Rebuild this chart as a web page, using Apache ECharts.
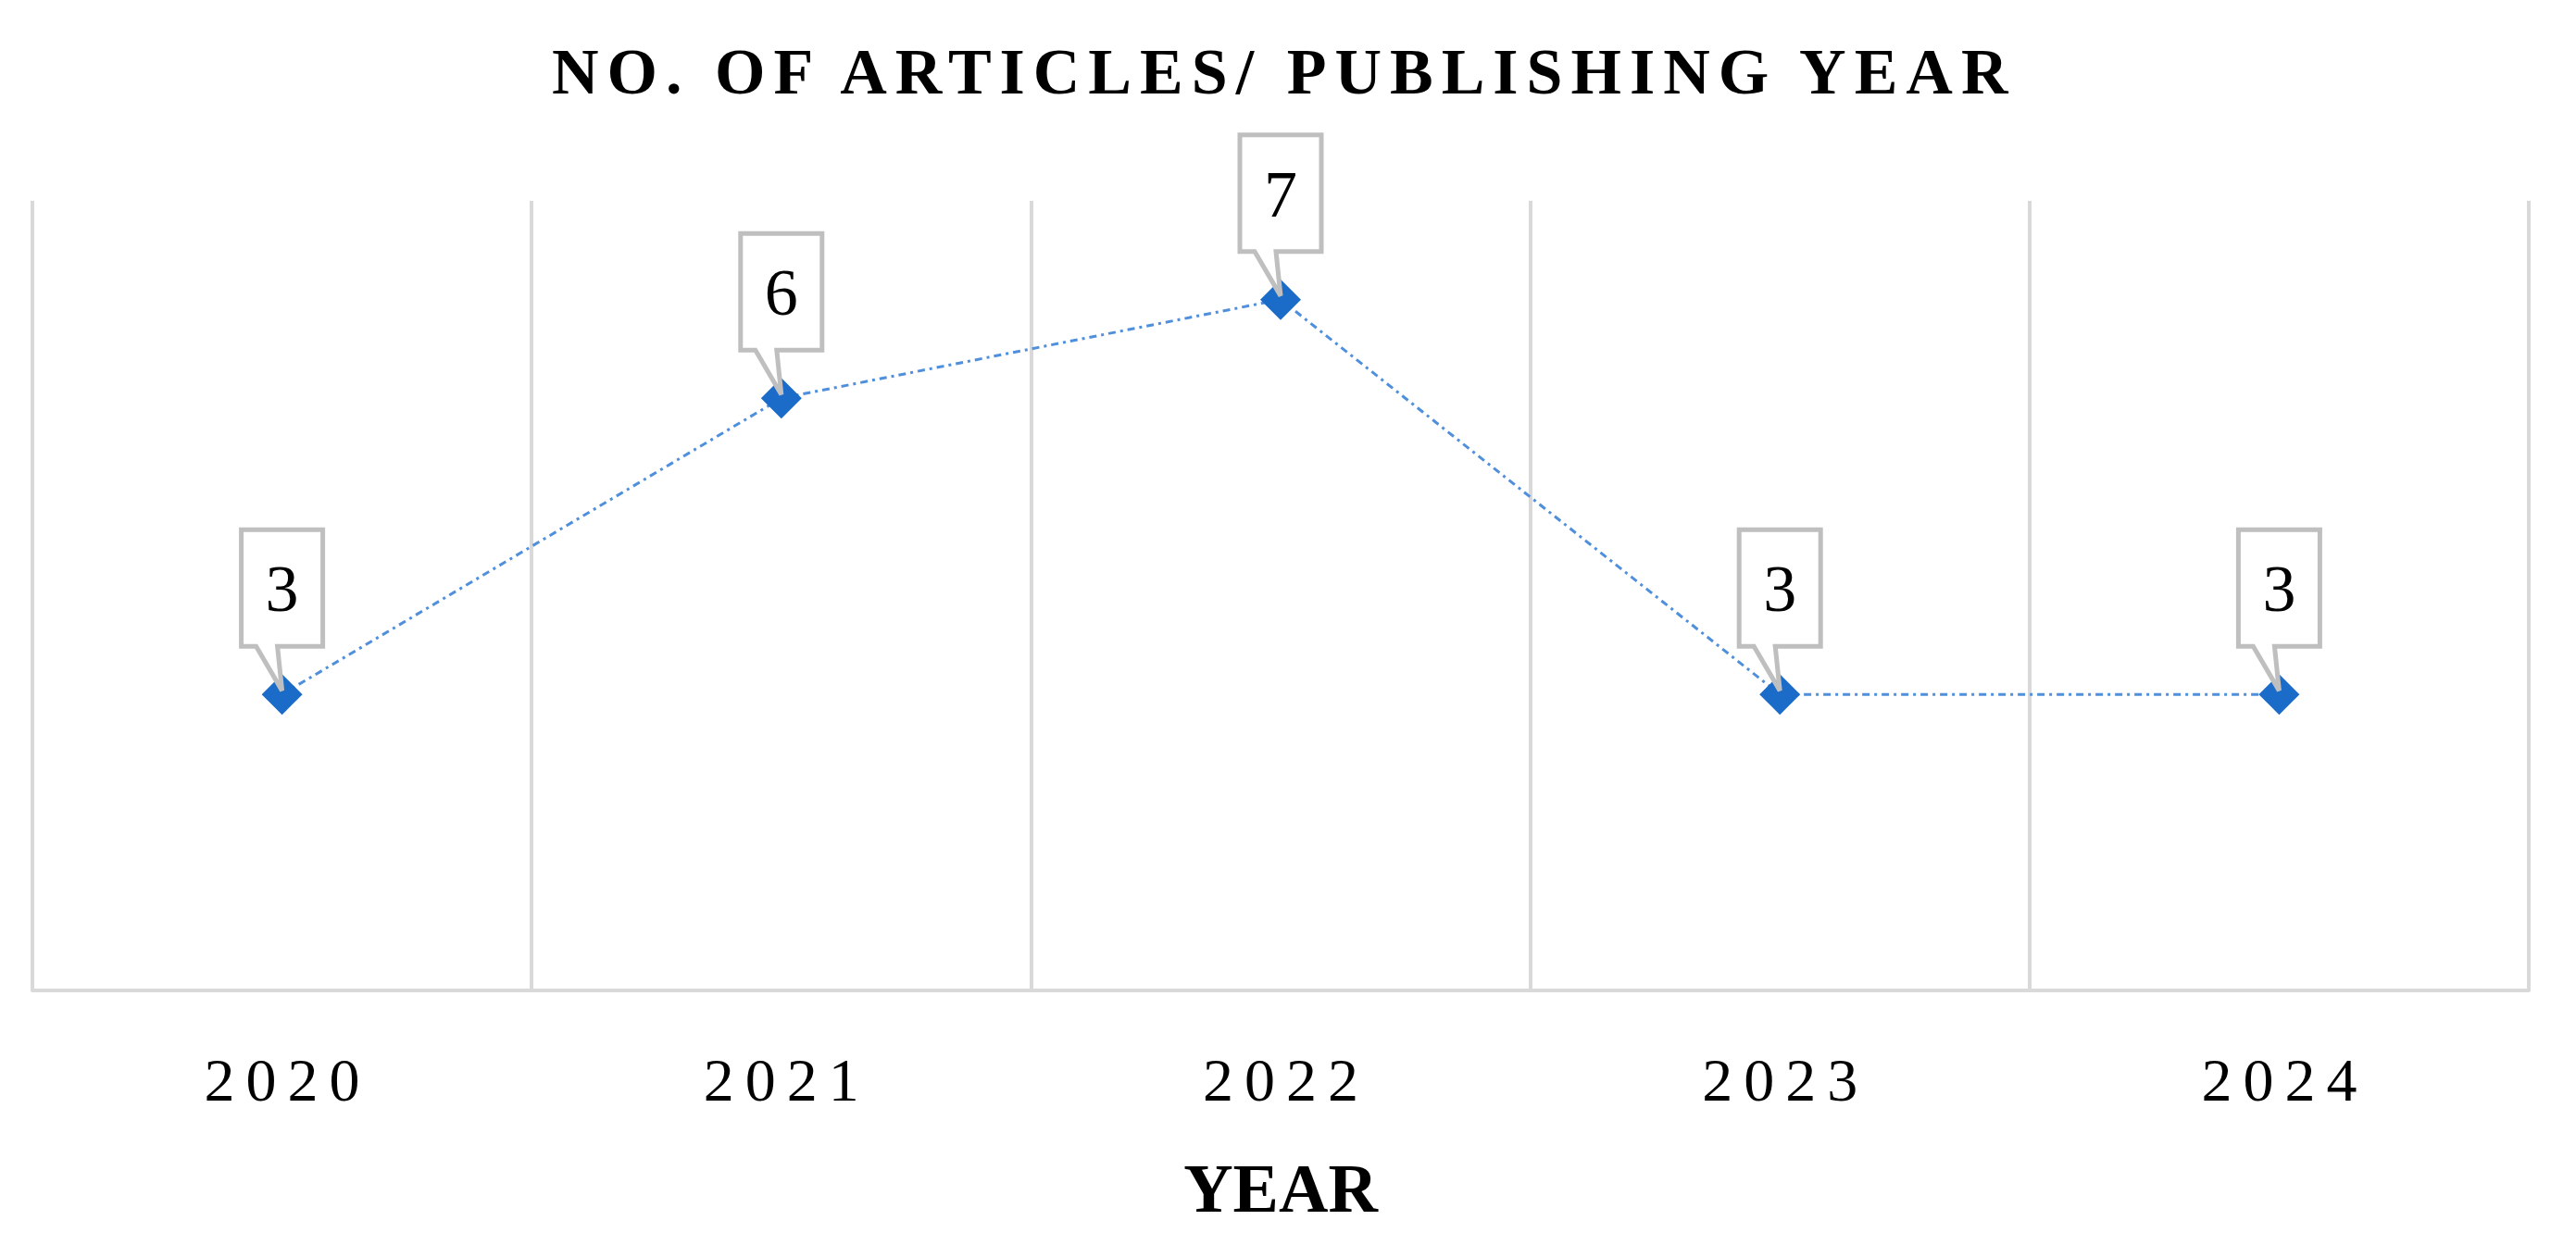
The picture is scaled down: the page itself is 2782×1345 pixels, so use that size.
<!DOCTYPE html>
<html>
<head>
<meta charset="utf-8">
<script src="https://cdn.jsdelivr.net/npm/echarts@6/dist/echarts.min.js"></script>
<style>
  html, body { margin: 0; padding: 0; background: #fff; }
  #main { width: 2782px; height: 1345px; }
</style>
</head>
<body>
<div id="main"></div>
<script>
const years = ['2020', '2021', '2022', '2023', '2024']
const articles = [3, 6, 7, 3, 3]
const yMin = 0
const yMax = 8

const serif = '"Liberation Serif", "DejaVu Serif", serif'

const chart = echarts.init(document.getElementById('main'), null, { renderer: 'svg' })

const option = {
    backgroundColor: '#ffffff',
    animation: false,
    title: {
        text: 'NO. OF ARTICLES/ PUBLISHING YEAR',
        left: 591,
        top: 37,
        textStyle: {
            fontFamily: serif,
            fontSize: 70,
            fontWeight: 'bold',
            color: '#000',
            lineHeight: 70,
        },
    },
    grid: {
        left: 35,
        right: 51,
        top: 217,
        bottom: 275,
    },
    xAxis: {
        type: 'category',
        data: years,
        boundaryGap: true,
        name: 'YEAR',
        nameLocation: 'middle',
        nameGap: 214,
        nameTextStyle: {
            fontFamily: serif,
            fontSize: 74,
            fontWeight: 'bold',
            color: '#000',
            verticalAlign: 'middle',
        },
        axisLine: {
            lineStyle: { color: '#d9d9d9', width: 4 },
        },
        axisTick: { show: false },
        axisLabel: {
            fontFamily: serif,
            fontSize: 66,
            color: '#000',
            margin: 96,
            verticalAlign: 'middle',
        },
        splitLine: {
            show: true,
            lineStyle: { color: '#d9d9d9', width: 4 },
        },
    },
    yAxis: {
        type: 'value',
        min: yMin,
        max: yMax,
        show: false,
        splitLine: { show: false },
    },
    series: [
        {
            type: 'line',
            data: articles,
            symbol: 'diamond',
            symbolSize: 44,
            z: 2,
            itemStyle: { color: '#1b6bc9' },
            lineStyle: {
                color: '#4f8fdc',
                width: 3,
                type: [8, 5, 3, 5],
            },
        },
        {
            // callout boxes above each point
            type: 'custom',
            z: 3,
            data: articles.map((v, i) => [i, v]),
            renderItem(params, api) {
                const p = api.coord([api.value(0), api.value(1)])
                const x = p[0]
                const y = p[1]
                return {
                    type: 'group',
                    children: [
                        {
                            type: 'polygon',
                            shape: {
                                points: [
                                    [x - 44, y - 178], [x + 44, y - 178], [x + 44, y - 52],
                                    [x - 5, y - 52], [x, y - 4], [x - 28, y - 52], [x - 44, y - 52],
                                ],
                            },
                            style: { fill: '#fff', stroke: '#bfbfbf', lineWidth: 5 },
                        },
                        {
                            type: 'text',
                            x: x,
                            y: y - 114,
                            style: {
                                text: String(api.value(1)),
                                fontFamily: serif,
                                fontSize: 72,
                                fill: '#000',
                                textAlign: 'center',
                                textVerticalAlign: 'middle',
                            },
                        },
                    ],
                }
            },
        },
    ],
}

chart.setOption(option)

// widen letter spacing on title and year labels like the original
function spaceText() {
    const texts = document.querySelectorAll('#main text')
    texts.forEach(t => {
        const s = t.textContent
        if (s === option.title.text) {
            t.style.letterSpacing = '9px'
        } else if (years.indexOf(s) >= 0) {
            t.style.letterSpacing = '12px'
            t.setAttribute('dx', '6')
        }
    })
}
spaceText()
chart.on('finished', spaceText)
</script>
</body>
</html>
